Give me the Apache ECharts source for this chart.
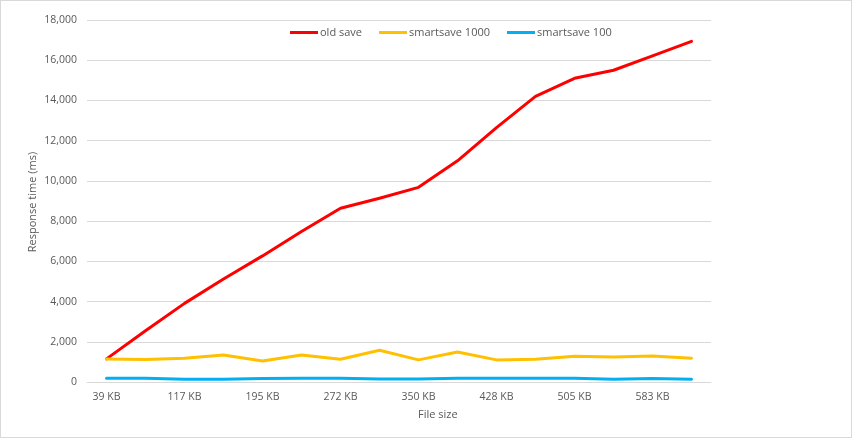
<!DOCTYPE html>
<html>
<head>
<meta charset="utf-8">
<script src="https://cdn.jsdelivr.net/npm/echarts@6/dist/echarts.min.js"></script>
<style>
html,body{margin:0;padding:0;background:#fff;}
#c{width:850px;height:436px;border:1px solid #d9d9d9;}
</style>
</head>
<body>
<div id="c"></div>
<script>
const categories = ['39 KB','78 KB','117 KB','156 KB','195 KB','234 KB','272 KB','311 KB','350 KB','389 KB','428 KB','467 KB','505 KB','544 KB','583 KB','622 KB'];
const oldSave = [1150, 2550, 3910, 5120, 6270, 7480, 8640, 9140, 9680, 11000, 12650, 14200, 15100, 15500, 16220, 16940];
const smartsave1000 = [1140, 1120, 1180, 1340, 1040, 1340, 1130, 1580, 1100, 1490, 1100, 1130, 1280, 1240, 1290, 1180];
const smartsave100 = [190, 190, 140, 140, 180, 190, 190, 150, 150, 190, 190, 190, 190, 140, 180, 140];
const yTicks = {min: 0, max: 18000, interval: 2000};

const font = 'Open Sans, Noto Sans, sans-serif';
const chart = echarts.init(document.getElementById('c'));
const mk = (name, data, color) => ({
  name, type: 'line', data, symbol: 'none', smooth: false,
  lineStyle: {width: 3, color, cap: 'round', join: 'round'},
  itemStyle: {color}
});
chart.setOption({
  animation: false,
  grid: {left: 86, right: 140, top: 19, bottom: 55},
  legend: {
    top: 21, left: 284,
    itemWidth: 28, itemHeight: 3, itemGap: 17,
    icon: 'rect',
    textStyle: {color: '#595959', fontSize: 11, fontFamily: font, padding: [0,0,0,-3]},
    data: ['old save','smartsave 1000','smartsave 100']
  },
  xAxis: {
    type: 'category', data: categories, boundaryGap: true,
    axisLine: {lineStyle: {color: '#d9d9d9'}},
    axisTick: {show: false},
    axisLabel: {interval: 1, color: '#595959', fontSize: 10.5, fontFamily: font, margin: 10}
  },
  yAxis: {
    type: 'value', min: yTicks.min, max: yTicks.max, interval: yTicks.interval,
    axisLine: {show: false}, axisTick: {show: false},
    splitLine: {lineStyle: {color: '#d9d9d9'}},
    axisLabel: {color: '#595959', fontSize: 10.5, fontFamily: font, margin: 10,
      formatter: v => v.toLocaleString('en-US')}
  },
  graphic: [{
    type: 'text', left: 417, top: 408,
    style: {text: 'File size', fill: '#595959', font: '11px ' + font}
  }, {
    type: 'text', x: 32, y: 201, rotation: Math.PI / 2,
    style: {text: 'Response time (ms)', fill: '#595959', font: '11px ' + font,
      textAlign: 'center', textVerticalAlign: 'middle'}
  }],
  series: [
    mk('old save', oldSave, '#ff0000'),
    mk('smartsave 1000', smartsave1000, '#ffc000'),
    mk('smartsave 100', smartsave100, '#00b0f0')
  ]
});
</script>
</body>
</html>
